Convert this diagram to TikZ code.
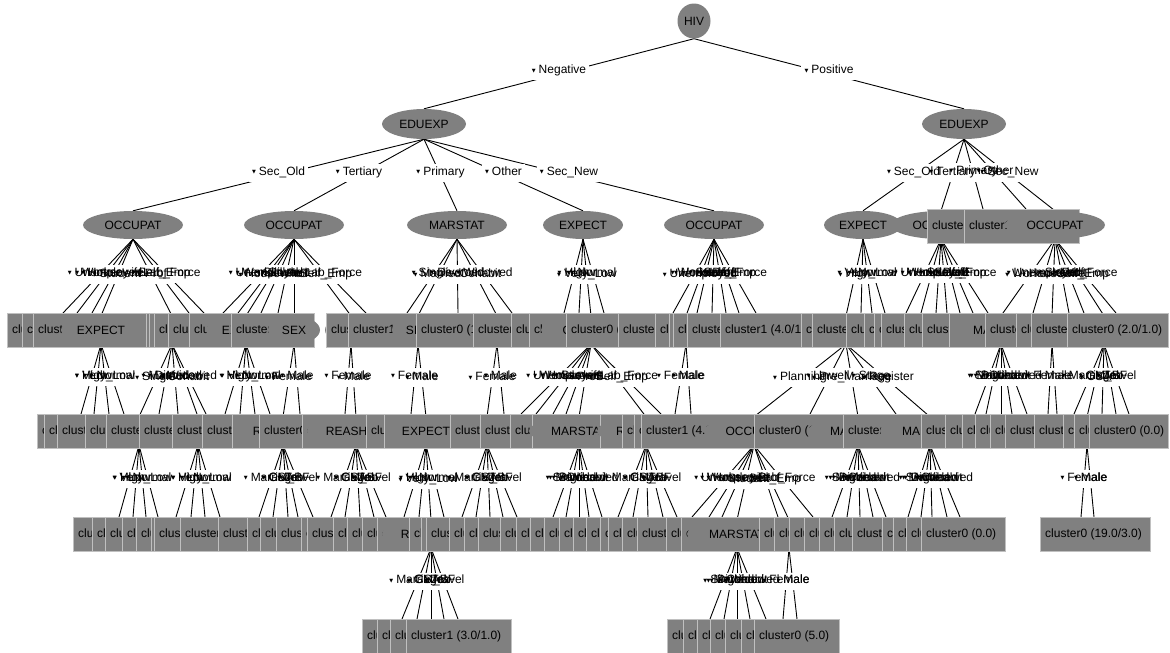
\documentclass[tikz,border=0pt]{standalone}
\usepackage{fontspec}
\setmainfont{Liberation Sans}
\newfontfamily\symfont{DejaVu Sans}
\usetikzlibrary{shapes.geometric,calc}
\pgfdeclarelayer{edgelayer}
\pgfdeclarelayer{boxlayer}
\pgfsetlayers{edgelayer,boxlayer,main}
\definecolor{ngray}{RGB}{128,128,128}
\definecolor{cgray}{RGB}{192,192,192}
\newcommand\nfont{\fontsize{12}{14}\selectfont}
\newcommand\tri{\raisebox{1.5pt}{\symfont\fontsize{5}{5}\selectfont ▼}\hspace{3pt}}
\tikzset{
  every node/.style={font=\nfont, text=black},
  ell/.style={ellipse, fill=ngray, inner sep=0pt, minimum height=28pt},
  cellbox/.style={rectangle, fill=ngray, draw=cgray, line width=0.8pt, minimum height=34pt, inner sep=0pt, outer sep=0pt, anchor=west},
  celltext/.style={anchor=west, inner xsep=5pt, inner ysep=0pt},
  link/.style={draw=black, line width=0.9pt},
  lab/.style={inner xsep=3pt, inner ysep=1.5pt, text height=9pt, text depth=5pt},
}
% decision node (ellipse) on the current row
\newcommand\ovnode[4]{\node[ell, minimum width=#3pt] (#1) at (#2,\rowy) {#4};}
% leaf box spanning [left,right] on the current row
\newcommand\cellnode[4]{\node[cellbox, minimum width={#3pt-#2pt}, label={[celltext]west:{#4}}] (#1) at (#2,\rowy) {};}
\newcommand\cellrun[2]{\foreach \ua/\ub [count=\i] in {#2} {\cellnode{#1\i}{\ua}{\ub}{cluster0 (1.0)}}}
% branch: line from parent to child, value label halfway
\newcommand\branch[4]{%
  \begin{pgfonlayer}{edgelayer}\draw[link] (#1.south) -- (#2);\end{pgfonlayer}
  \path ($(#1.south)!.5!(#2)$) ++(0,-2) node[lab] (#4) {\tri #3};
  \begin{pgfonlayer}{boxlayer}\fill[white] (#4.south west) rectangle (#4.north east);\end{pgfonlayer}}
\newcommand\leafedge[4]{\coordinate (#4) at (#2,\rowtop); \branch{#1}{#4}{#3}{#4l}}
\newcommand\leaves[3]{\foreach \x/\v [count=\i] in {#3} {\leafedge{#1}{\x}{\v}{#2-\i}}}

\begin{document}
\begin{tikzpicture}[x=1pt,y=-1pt]
\useasboundingbox (0,0) rectangle (1170,653);

% ---------- levels 0-2 ----------
\node[ell, minimum width=33pt, minimum height=35pt] (hiv) at (694,21) {HIV};
\node[ell, minimum width=84pt, minimum height=30pt] (eduL) at (424,124) {EDUEXP};
\node[ell, minimum width=84pt, minimum height=30pt] (eduR) at (964,124) {EDUEXP};

\def\rowy{225}
\ovnode{occA}{133}{100}{OCCUPAT}
\ovnode{occB}{294}{100}{OCCUPAT}
\ovnode{marA}{457}{100}{MARSTAT}
\ovnode{expA}{583}{80}{EXPECT}
\ovnode{occC}{714}{100}{OCCUPAT}
\ovnode{occO}{941}{100}{OCCUPAT}
\ovnode{expR}{863}{78}{EXPECT}
\def\rowy{226}
\cellnode{lfP}{927}{964}{cluster0 (5.0/1.0)}
\cellnode{lfQ}{964}{1079}{cluster1 (7.0/2.0)}
\def\rowy{225}
\ovnode{occR}{1055}{100}{OCCUPAT}

% ---------- level 3 ----------
\def\rowy{330}
\ovnode{r3marA}{172}{100}{MARSTAT}
\ovnode{r3sexB}{351}{52}{SEX}
\ovnode{r3sexD}{497}{52}{SEX}
\ovnode{r3sexE}{686}{52}{SEX}
\ovnode{r3rsn}{846}{98}{}
\ovnode{r3sexF}{1052}{52}{SEX}
\ovnode{r3rshG}{1104}{98}{REASHIVT}
\cellrun{r3a}{7/22,22/33,33/146}
\ovnode{r3expA}{101}{80}{EXPECT}
\cellrun{r3b}{146/149,149/154,154/168,168/189,189/231}
\ovnode{r3expB}{246}{80}{EXPECT}
\cellnode{r3c1}{231}{314}{cluster0 (3.0)}
\ovnode{r3sexA}{294}{52}{SEX}
\cellrun{r3d}{326/348}
\cellnode{r3e1}{348}{416}{cluster1 (2.0)}
\ovnode{r3sexC}{418}{52}{SEX}
\cellrun{r3f}{416/473,473/511,511/529,529/566}
\ovnode{r3occA}{591}{100}{OCCUPAT}
\cellrun{r3g}{566/618,618/655,655/669,669/673,673/687,687/720}
\cellnode{r3h1}{720}{801}{cluster1 (4.0/1.0)}
\cellrun{r3i}{801/812,812/846,846/864,864/874,874/881,881/904,904/922,922/949,949/985}
\ovnode{r3marB}{1001}{100}{MARSTAT}
\cellrun{r3j}{985/1016,1016/1031,1031/1067}
\cellnode{r3k1}{1067}{1168}{cluster0 (2.0/1.0)}

% ---------- level 4 ----------
\def\rowy{431}
\ovnode{r4expA}{139}{80}{EXPECT}
\ovnode{r4expB}{198}{80}{EXPECT}
\ovnode{r4rshC}{487}{98}{REASHIVT}
\ovnode{r4sexA}{1087}{52}{SEX}
\cellrun{r4a}{37/44,44/57,57/85,85/106,106/139,139/172,172/202,202/232,232/259}
\ovnode{r4rshA}{283}{98}{REASHIVT}
\cellrun{r4b}{259/302,302/366}
\ovnode{r4rshB}{356}{98}{REASHIVT}
\cellrun{r4c}{366/384,384/450}
\ovnode{r4expC}{426}{80}{EXPECT}
\cellrun{r4d}{450/480,480/510,510/532,532/600}
\ovnode{r4marA}{579}{100}{MARSTAT}
\cellrun{r4e}{600/622}
\ovnode{r4rshD}{646}{98}{REASHIVT}
\cellrun{r4f}{622/634,634/641}
\cellnode{r4g1}{641}{754}{cluster1 (4.0/1.0)}
\ovnode{r4occ}{754}{100}{OCCUPAT}
\cellnode{r4h1}{754}{843}{cluster0 (1.0)}
\ovnode{r4marB}{858}{100}{MARSTAT}
\cellnode{r4i1}{843}{921}{cluster1 (1.0)}
\ovnode{r4marC}{930}{100}{MARSTAT}
\cellrun{r4j}{921/945,945/962,962/975,975/990,990/1005,1005/1034,1034/1063,1063/1074,1074/1089}
\cellnode{r4k1}{1089}{1168}{cluster0 (0.0)}

% ---------- level 5 ----------
\def\rowy{534}
\ovnode{r5sex}{789}{52}{SEX}
\cellrun{r5a}{73/92,92/105,105/122,122/136,136/151,151/154,154/180,180/218,218/247,247/260,260/276,276/301,301/307,307/333,333/347,347/362,362/377,377/409}
\ovnode{r5rsh}{431}{98}{REASHIVT}
\cellrun{r5b}{409/421,421/426,426/449,449/464,464/478,478/500,500/516,516/530,530/544,544/559,559/573,573/586,586/600,600/608,608/622,622/637,637/666,666/681,681/759}
\ovnode{r5mar}{737}{100}{MARSTAT}
\cellrun{r5c}{759/774,774/789,789/804,804/819,819/834,834/852,852/882,882/893,893/906,906/921}
\cellnode{r5d1}{921}{1005}{cluster0 (0.0)}
\cellnode{r5e1}{1040}{1150}{cluster0 (19.0/3.0)}

% ---------- level 6 ----------
\def\rowy{636}
\cellrun{r6a}{362/377,377/390,390/406}
\cellnode{r6b1}{406}{511}{cluster1 (3.0/1.0)}
\cellrun{r6c}{667/683,683/697,697/710,710/725,725/741,741/754}
\cellnode{r6d1}{754}{839}{cluster0 (5.0)}

% ---------- branches ----------
\branch{hiv}{eduL.north}{Negative}{bNeg}
\branch{hiv}{eduR.north}{Positive}{bPos}

\branch{eduL}{occA.north}{Sec\_Old}{bL1}
\branch{eduL}{occB.north}{Tertiary}{bL2}
\branch{eduL}{marA.north}{Primary}{bL3}
\branch{eduL}{expA.north}{Other}{bL4}
\branch{eduL}{occC.north}{Sec\_New}{bL5}
\def\rowtop{209}
\branch{eduR}{expR.north}{Sec\_Old}{bR1}
\branch{eduR}{occO.north}{Tertiary}{bR2}
\leafedge{eduR}{983}{Primary}{bR3}
\leafedge{eduR}{1026}{Other}{bR4}
\branch{eduR}{occR.north}{Sec\_New}{bR5}

% level 2 -> 3
\def\rowtop{313}
\leaves{occA}{eA}{63/Worker,77/Unemployed,92/Housewife,189/Self\_Emp,204/Lab\_Force}
\branch{occA}{r3expA.north}{Student}{eA6}
\branch{occA}{r3marA.north}{Prof}{eA7}
\leaves{occB}{eB}{223/Worker,238/Unemployed,261/Skilled,278/Student,366/Lab\_Force}
\branch{occB}{r3expB.north}{Housewife}{eB6}
\branch{occB}{r3sexA.north}{Prof}{eB7}
\branch{occB}{r3sexB.north}{Self\_Emp}{eB8}
\leaves{marA}{eC}{407/Single,458/Divorced,512/Widowed}
\branch{marA}{r3sexC.north}{Married}{eC4}
\branch{marA}{r3sexD.north}{Cohabit}{eC5}
\leaves{expA}{eD}{564/High,579/Low,604/Normal}
\branch{expA}{r3occA.north}{Very\_Low}{eD4}
\leaves{occC}{eE}{673/Worker,697/Housewife,712/Student,726/Prof,739/Self\_Emp,756/Lab\_Force}
\branch{occC}{r3sexE.north}{Unemployed}{eE7}
\branch{expR}{r3rsn.north}{High}{eF1}
\leaves{expR}{eF}{861/Low,872/Very\_Low,885/Normal}
\leaves{occO}{eG}{906/Worker,921/Unemployed,936/Housewife,947/Student,960/Prof,973/Self\_Emp,988/Lab\_Force}
\branch{occR}{r3marB.north}{Worker}{eH1}
\branch{occR}{r3sexF.north}{Housewife}{eH2}
\branch{occR}{r3rshG.north}{Self\_Emp}{eH3}
\leaves{occR}{eH}{1033/Unemployed,1069/Student,1084/Prof,1116/Lab\_Force}

% level 3 -> 4
\def\rowtop{414}
\leaves{r3expA}{fA}{81/High,94/Low,109/Very\_Low,124/Normal}
\branch{r3marA}{r4expA.north}{Single}{fB1}
\branch{r3marA}{r4expB.north}{Cohabit}{fB2}
\leaves{r3marA}{fB}{159/Married,178/Divorced,206/Widowed}
\leaves{r3expB}{fC}{225/High,240/Low,255/Very\_Low,270/Normal}
\branch{r3sexA}{r4rshA.north}{Female}{fD1}
\leaves{r3sexA}{fD}{300/Male}
\leaves{r3sexB}{fE}{345/Female}
\branch{r3sexB}{r4rshB.north}{Male}{fE2}
\leaves{r3sexC}{fF}{411/Female}
\branch{r3sexC}{r4expC.north}{Male}{fF2}
\branch{r3sexD}{r4rshC.north}{Female}{fG1}
\leaves{r3sexD}{fG}{504/Male}
\leaves{r3occA}{fH}{521/Worker,536/Unemployed,553/Housewife,566/Student,661/Lab\_Force}
\branch{r3occA}{r4marA.north}{Prof}{fH6}
\branch{r3occA}{r4rshD.north}{Self\_Emp}{fH7}
\leaves{r3sexE}{fI}{675/Female,691/Male}
\branch{r3rsn}{r4occ.north}{Planning}{fJ1}
\branch{r3rsn}{r4marB.north}{Pre\_Marriage}{fJ2}
\branch{r3rsn}{r4marC.north}{Register}{fJ3}
\leaves{r3rsn}{fJ}{810/Unwell,896/Stage}
\leaves{r3marB}{fK}{975/Single,986/Married,1001/Divorced,1012/Cohabit,1027/Widowed}
\leaves{r3sexF}{fL}{1048/Female,1057/Male}
\branch{r3rshG}{r4sexA.north}{CSA}{fM1}
\leaves{r3rshG}{fM}{1074/Marriage,1102/GM\_BF,1116/Job,1129/Travel}

% level 4 -> 5
\def\rowtop{517}
\leaves{r4expA}{gA}{119/High,133/Low,146/Very\_Low,158/Normal}
\leaves{r4expB}{gB}{176/High,191/Low,205/Very\_Low,220/Normal}
\leaves{r4rshA}{gC}{259/Marriage,273/CSA,288/GM\_BF,298/Job,313/Travel}
\leaves{r4rshB}{gD}{331/Marriage,345/CSA,360/GM\_BF,374/Job,386/Travel}
\leaves{r4expC}{gE}{404/High,419/Low,444/Normal}
\branch{r4expC}{r5rsh.north}{Very\_Low}{gE4}
\leaves{r4rshC}{gF}{462/Marriage,476/CSA,490/GM\_BF,503/Job,517/Travel}
\leaves{r4marA}{gG}{553/Single,566/Married,579/Divorced,589/Cohabit,602/Widowed}
\leaves{r4rshD}{gH}{618/Marriage,633/CSA,648/GM\_BF,663/Job,677/Travel}
\leaves{r4occ}{gI}{692/Worker,709/Unemployed,722/Housewife,778/Prof,813/Lab\_Force}
\branch{r4occ}{r5mar.north}{Student}{gI6}
\branch{r4occ}{r5sex.north}{Self\_Emp}{gI7}
\leaves{r4marB}{gJ}{832/Single,847/Married,860/Divorced,873/Cohabit,886/Widowed}
\leaves{r4marC}{gK}{908/Single,921/Married,932/Divorced,947/Cohabit,960/Widowed}
\leaves{r4sexA}{gL}{1081/Female,1094/Male}

% level 5 -> 6
\def\rowtop{619}
\leaves{r5rsh}{hA}{402/Marriage,417/CSA,431/GM\_BF,444/Job,458/Travel}
\leaves{r5mar}{hB}{710/Single,724/Married,737/Divorced,750/Cohabit,766/Widowed}
\leaves{r5sex}{hC}{783/Female,797/Male}
\end{tikzpicture}
\end{document}
